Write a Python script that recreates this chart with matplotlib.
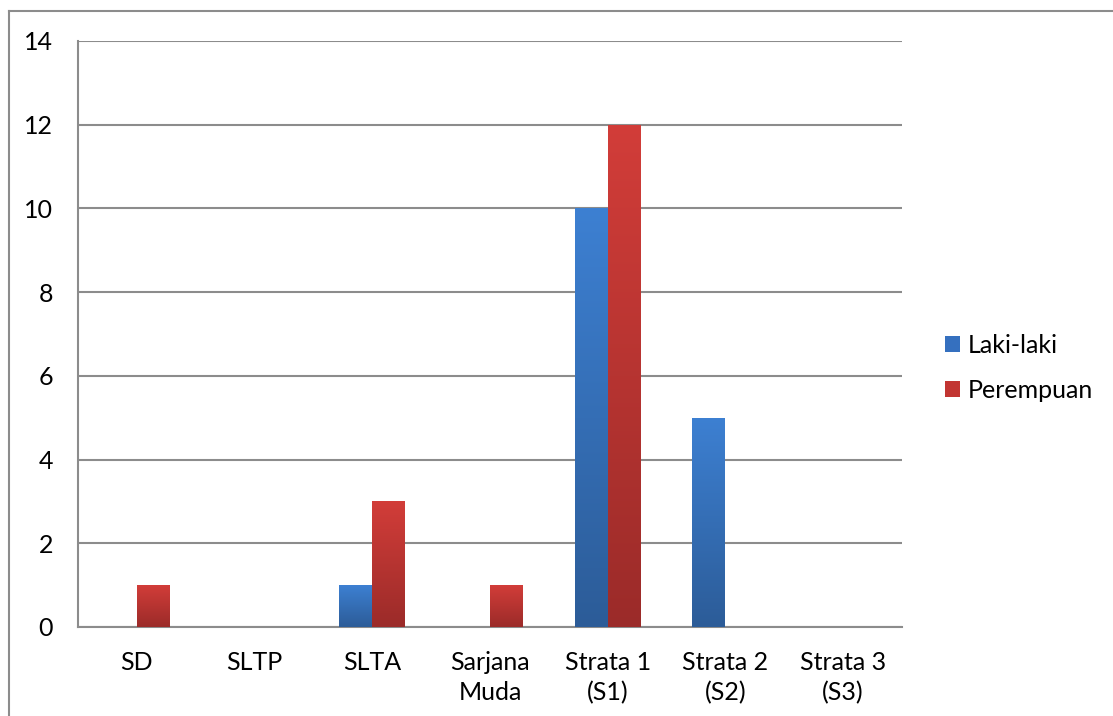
import numpy as np
import matplotlib.pyplot as plt
from matplotlib.patches import Patch
from matplotlib.colors import LinearSegmentedColormap
from matplotlib.lines import Line2D

plt.rcParams['font.family'] = ['Lato', 'DejaVu Sans']

# Data
categories = ["SD", "SLTP", "SLTA", "Sarjana\nMuda", "Strata 1\n(S1)",
              "Strata 2\n(S2)", "Strata 3\n(S3)"]
laki_laki = [0, 0, 1, 0, 10, 5, 0]
perempuan = [1, 0, 3, 1, 12, 0, 0]

blue_grad = LinearSegmentedColormap.from_list("b", ["#2c5c98", "#3d80d2"])
red_grad = LinearSegmentedColormap.from_list("r", ["#9b2b29", "#d23d39"])


def gradient_bars(ax, bars, cmap):
    """Fill each bar with a vertical gradient (dark at bottom)."""
    grad = np.linspace(0, 1, 256).reshape(-1, 1)
    for b in bars:
        h = b.get_height()
        if h <= 0:
            continue
        x0 = b.get_x()
        w = b.get_width()
        b.set_facecolor("none")
        b.set_edgecolor("none")
        im = ax.imshow(grad, cmap=cmap, origin="lower", aspect="auto",
                       extent=(x0, x0 + w, 0, h), zorder=3)
        im.set_clip_path(b)


fig = plt.figure(figsize=(11.13, 7.16), dpi=100)
ax = fig.add_axes([78 / 1113, 89 / 716, 824 / 1113, 586 / 716])

x = np.arange(len(categories))
w = 0.28
b1 = ax.bar(x - w / 2, laki_laki, width=w, zorder=3)
b2 = ax.bar(x + w / 2, perempuan, width=w, zorder=3)
gradient_bars(ax, b1, blue_grad)
gradient_bars(ax, b2, red_grad)

ax.set_xlim(-0.5, len(categories) - 0.5)
ax.set_ylim(0, 14)
ax.set_yticks(range(0, 15, 2))
ax.set_xticks(x)
ax.set_xticklabels(categories, linespacing=1.4)
ax.yaxis.grid(True, color="#8c8c8c", linewidth=1.5, zorder=0)
ax.set_axisbelow(True)
ax.tick_params(axis="both", length=0, labelsize=18, colors="black")
ax.tick_params(axis="y", pad=18)
ax.tick_params(axis="x", pad=17)
for s in ["top", "right"]:
    ax.spines[s].set_visible(False)
for s in ["left", "bottom"]:
    ax.spines[s].set_color("#8c8c8c")
    ax.spines[s].set_linewidth(1.5)

handles = [Patch(facecolor="#3570bf", label="Laki-laki"),
           Patch(facecolor="#c23532", label="Perempuan")]
ax.legend(handles=handles, loc="center left", bbox_to_anchor=(1.037, 0.442),
          frameon=False, fontsize=18, handlelength=0.6, handleheight=0.6,
          handletextpad=0.3, labelspacing=0.9, borderpad=0)

# outer chart border (cut off at right and bottom)
fig.add_artist(Line2D([9 / 1113, 9 / 1113], [0, 1 - 11 / 716],
                      color="#8c8c8c", linewidth=1.5))
fig.add_artist(Line2D([9 / 1113, 1], [1 - 11 / 716, 1 - 11 / 716],
                      color="#8c8c8c", linewidth=1.5))

fig.savefig("out.png", dpi=100)
